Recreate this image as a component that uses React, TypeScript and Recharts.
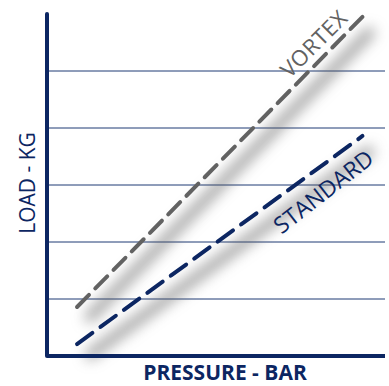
import { LineChart, Line, XAxis, YAxis, ReferenceLine } from "recharts";

const pressure = [1, 10.5];
const vortex = [0.86, 5.95];
const standard = [0.21, 3.86];
const loadTicks = [1, 2, 3, 4, 5];

const data = pressure.map((x, i) => ({ x, vortex: vortex[i], standard: standard[i] }));

const NAVY = "#0c2662";
const GRID = "#1f3a74";
const GRAY = "#626262";

export default function App() {
  return (
    <div style={{ position: "relative", width: 389, height: 386 }}>
      <style>{`
        body { margin: 0; }
        .shadow .recharts-line-curve { filter: blur(7px); transform: translate(10px, 13px); }
      `}</style>
      <LineChart width={389} height={386} data={data} margin={{ top: 14, right: 4, bottom: 30, left: 47 }}>
        <XAxis type="number" dataKey="x" domain={[0, 11.25]} hide />
        <YAxis type="number" domain={[0, 6]} hide />
        {loadTicks.map((t) => (
          <ReferenceLine key={t} y={t} stroke={GRID} strokeWidth={1} />
        ))}
        <Line className="shadow" dataKey="vortex" stroke="#5a5a5a" strokeOpacity={0.6} strokeWidth={10} dot={false} isAnimationActive={false} />
        <Line className="shadow" dataKey="standard" stroke="#5a5a5a" strokeOpacity={0.6} strokeWidth={10} dot={false} isAnimationActive={false} />
        <Line dataKey="vortex" stroke={GRAY} strokeWidth={4} strokeDasharray="17 9" strokeLinecap="round" dot={false} isAnimationActive={false} />
        <Line dataKey="standard" stroke={NAVY} strokeWidth={4} strokeDasharray="19 10" strokeLinecap="round" dot={false} isAnimationActive={false} />
        <ReferenceLine x={0} stroke={NAVY} strokeWidth={4} strokeLinecap="round" />
        <ReferenceLine y={0} stroke={NAVY} strokeWidth={4} />
      </LineChart>
      <svg width={389} height={386} style={{ position: "absolute", left: 0, top: 0, pointerEvents: "none" }}>
        <g fontFamily="'Open Sans', 'Noto Sans', sans-serif">
          <text x={313} y={43} fontSize={22} fill={GRAY} letterSpacing={0.5} textAnchor="middle" dominantBaseline="central" transform="rotate(-45 313 43)">VORTEX</text>
          <text x={323} y={191} fontSize={23} fill={NAVY} textAnchor="middle" dominantBaseline="central" transform="rotate(-38 323 191)">STANDARD</text>
          <text x={27} y={183} fontSize={21} fill={NAVY} textAnchor="middle" dominantBaseline="central" transform="rotate(-90 27 183)">LOAD - KG</text>
          <text x={225} y={380} fontSize={21} fontWeight={700} fill={NAVY} textAnchor="middle">PRESSURE - BAR</text>
        </g>
      </svg>
    </div>
  );
}
